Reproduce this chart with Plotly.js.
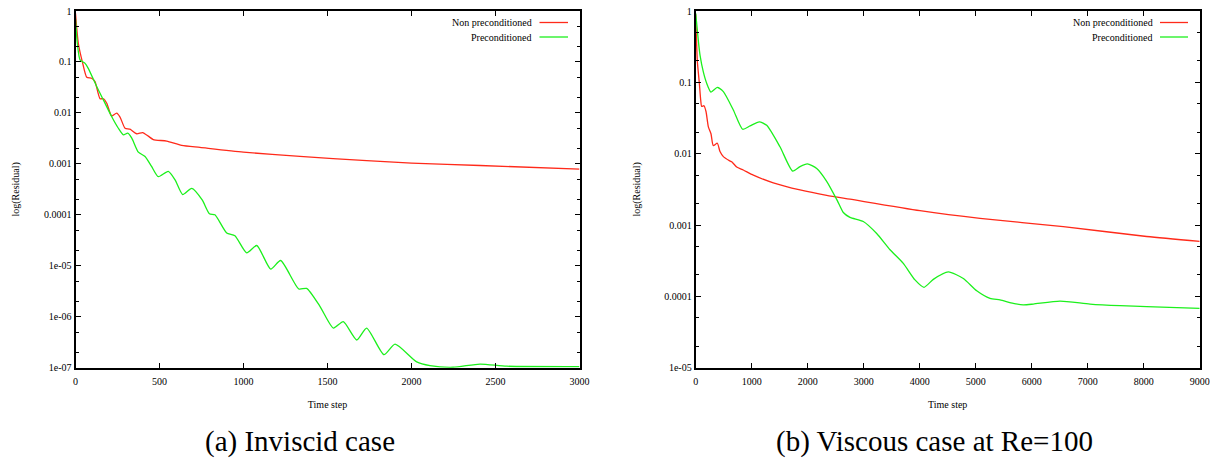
<!DOCTYPE html>
<html>
<head>
<meta charset="utf-8">
<script src="https://cdn.plot.ly/plotly-3.0.1.min.js"></script>
<style>html,body{margin:0;padding:0;background:#fff;}#chart{width:1215px;height:463px;}</style>
</head>
<body>
<div id="chart"></div>
<script>
// ---- Data ----
const seriesNames = ["Non preconditioned", "Preconditioned"];
const captions = ["(a) Inviscid case", "(b) Viscous case at Re=100"];
const xTitle = "Time step";
const yTitle = "log(Residual)";

// (a) Inviscid case
const invNonT = [0, 17, 43, 67, 96, 116, 146, 166, 186, 215, 245, 265, 295, 324, 364, 400, 433, 463, 543, 632, 741, 999, 1336, 1733, 2000, 2408, 3000];
const invNonR = [0.9, 0.23, 0.094, 0.05, 0.048, 0.041, 0.019, 0.019, 0.0155, 0.0087, 0.0099, 0.0083, 0.005, 0.0048, 0.0039, 0.0041, 0.0035, 0.0030, 0.0028, 0.0023, 0.0021, 0.0017, 0.0014, 0.00116, 0.00103, 0.00093, 0.00079];
const invPreT = [0, 11, 27, 57, 76, 126, 166, 215, 255, 285, 311, 335, 374, 414, 453, 493, 552, 592, 638, 692, 754, 797, 830, 900, 949, 1019, 1079, 1162, 1221, 1329, 1376, 1455, 1535, 1594, 1674, 1733, 1836, 1902, 2031, 2110, 2247, 2408, 2567, 3000];
const invPreR = [0.7, 0.23, 0.11, 0.094, 0.075, 0.033, 0.018, 0.0085, 0.005, 0.0037, 0.0040, 0.0032, 0.0017, 0.0014, 0.00089, 0.00056, 0.00071, 0.00049, 0.00025, 0.00033, 0.000196, 0.000105, 0.0001, 0.000044, 0.000039, 0.000018, 0.000025, 0.0000086, 0.0000127, 0.0000035, 0.0000036, 0.0000016, 0.0000006, 0.0000008, 0.00000035, 0.0000006, 0.00000018, 0.00000029, 0.00000013, 0.00000011, 0.000000102, 0.000000118, 0.000000107, 0.000000105];

// (b) Viscous case at Re=100
const visNonT = [0, 29, 65, 89, 107, 148, 184, 225, 273, 314, 386, 434, 494, 600, 643, 732, 850, 1029, 1386, 1863, 2339, 2755, 4005, 5077, 6564, 8053, 9000];
const visNonR = [0.9, 0.2, 0.097, 0.057, 0.046, 0.047, 0.039, 0.024, 0.019, 0.013, 0.014, 0.0107, 0.0091, 0.0080, 0.0077, 0.0065, 0.0059, 0.005, 0.0039, 0.0031, 0.0026, 0.0023, 0.00159, 0.00124, 0.00095, 0.00069, 0.00059];
const visPreT = [0, 46, 77, 136, 196, 273, 386, 494, 672, 839, 970, 1136, 1268, 1505, 1732, 1863, 1993, 2161, 2339, 2529, 2636, 2755, 2993, 3232, 3470, 3707, 3916, 4077, 4243, 4511, 4779, 5018, 5255, 5434, 5671, 5850, 6029, 6505, 7041, 7577, 8053, 9000];
const visPreR = [0.93, 0.39, 0.24, 0.14, 0.097, 0.073, 0.085, 0.074, 0.041, 0.022, 0.0245, 0.028, 0.025, 0.0125, 0.0057, 0.0066, 0.0072, 0.0062, 0.0041, 0.0022, 0.0015, 0.00128, 0.00112, 0.00076, 0.00045, 0.00029, 0.00017, 0.000134, 0.000173, 0.00022, 0.000178, 0.00012, 0.000094, 0.000089, 0.00008, 0.000076, 0.000078, 0.000086, 0.000078, 0.000074, 0.000072, 0.000068];

// Tick labels
const invYTickVals = [1, 0.1, 0.01, 0.001, 0.0001, 1e-5, 1e-6, 1e-7];
const invYTickText = ["1", "0.1", "0.01", "0.001", "0.0001", "1e-05", "1e-06", "1e-07"];
const visYTickVals = [1, 0.1, 0.01, 0.001, 0.0001, 1e-5];
const visYTickText = ["1", "0.1", "0.01", "0.001", "0.0001", "1e-05"];
const invXTicks = [0, 500, 1000, 1500, 2000, 2500, 3000];
const visXTicks = [0, 1000, 2000, 3000, 4000, 5000, 6000, 7000, 8000, 9000];
const minorMantissas = [2, 5];

// ---- Styling ----
const RED = "#ff2a1a";
const GREEN = "#1cf01c";
const FONT = "Liberation Serif";

function line(x, y, color, xa, ya) {
  return {x: x, y: y, type: "scatter", mode: "lines", xaxis: xa, yaxis: ya,
    line: {color: color, width: 1.3, shape: "spline", smoothing: 0.6}, showlegend: false, hoverinfo: "skip"};
}

const data = [
  line(invNonT, invNonR, RED, "x", "y"),
  line(invPreT, invPreR, GREEN, "x", "y"),
  line(visNonT, visNonR, RED, "x2", "y2"),
  line(visPreT, visPreR, GREEN, "x2", "y2"),
  // empty helper traces so the minor-tick overlay axes get drawn
  {x: [], y: [], type: "scatter", mode: "lines", xaxis: "x", yaxis: "y3", showlegend: false, hoverinfo: "skip"},
  {x: [], y: [], type: "scatter", mode: "lines", xaxis: "x2", yaxis: "y4", showlegend: false, hoverinfo: "skip"}
];

const dom1 = [75.5/1215, 579.5/1215];
const dom2 = [695.7/1215, 1199.7/1215];
const ydom = [1 - 367.7/463, 1 - 11/463];

function minorVals(lo, hi) {
  const v = [];
  for (let e = lo; e < hi; e++) minorMantissas.forEach(m => v.push(m * Math.pow(10, e)));
  return v;
}

function xaxis(dom, rng, ticks, anchor) {
  return {domain: dom, range: rng, anchor: anchor, tickvals: ticks, ticktext: ticks.map(String),
    showgrid: false, zeroline: false, showline: true, linecolor: "#000", linewidth: 2, mirror: "ticks",
    ticks: "inside", ticklen: 5, tickwidth: 1, tickcolor: "#000", ticklabelstandoff: 3,
    tickfont: {family: FONT, size: 10, color: "#000"},
    title: {text: xTitle, font: {family: FONT, size: 10, color: "#000"}, standoff: 15},
    automargin: false, fixedrange: true};
}
function yaxis(dom, rng, vals, text, anchor) {
  return {domain: dom, type: "log", range: rng, anchor: anchor, tickvals: vals, ticktext: text,
    showgrid: false, zeroline: false, showline: true, linecolor: "#000", linewidth: 2, mirror: "ticks",
    ticks: "inside", ticklen: 5, tickwidth: 1, tickcolor: "#000",
    tickfont: {family: FONT, size: 10, color: "#000"},
    title: {text: yTitle, font: {family: FONT, size: 10, color: "#000"}, standoff: 22},
    automargin: false, fixedrange: true};
}
function minorAxis(dom, rng, overlay, anchor) {
  return {domain: dom, type: "log", range: rng, overlaying: overlay, anchor: anchor,
    tickvals: minorVals(rng[0], rng[1]), showticklabels: false,
    ticks: "inside", ticklen: 3, tickwidth: 1, tickcolor: "#000", mirror: "ticks",
    showgrid: false, zeroline: false, fixedrange: true};
}

function legendItems(textRightPx, lineStartPx, lineEndPx) {
  const anns = [], shapes = [];
  const ys = [22.5, 37];
  const cols = [RED, GREEN];
  for (let i = 0; i < 2; i++) {
    anns.push({xref: "paper", yref: "paper", x: textRightPx/1215, y: 1 - ys[i]/463, xanchor: "right", yanchor: "middle",
      text: seriesNames[i], showarrow: false, font: {family: FONT, size: 10, color: "#000"}});
    shapes.push({type: "line", xref: "paper", yref: "paper", x0: lineStartPx/1215, x1: lineEndPx/1215,
      y0: 1 - ys[i]/463, y1: 1 - ys[i]/463, line: {color: cols[i], width: 1.3}});
  }
  return {anns, shapes};
}
const lg1 = legendItems(534, 539.5, 568);
const lg2 = legendItems(1154.5, 1160, 1188);

const captionAnns = [
  {xref: "paper", yref: "paper", x: 300/1215, y: 1 - 441/463, xanchor: "center", yanchor: "middle", text: captions[0], showarrow: false,
    font: {family: FONT, size: 29, color: "#000"}},
  {xref: "paper", yref: "paper", x: 934/1215, y: 1 - 441/463, xanchor: "center", yanchor: "middle", text: captions[1], showarrow: false,
    font: {family: FONT, size: 29, color: "#000"}}
];

const layout = {
  width: 1215, height: 463,
  margin: {l: 0, r: 0, t: 0, b: 0},
  paper_bgcolor: "#fff", plot_bgcolor: "#fff",
  showlegend: false,
  xaxis: xaxis(dom1, [0, 3000], invXTicks, "y"),
  yaxis: yaxis(ydom, [-7, 0], invYTickVals, invYTickText, "x"),
  xaxis2: xaxis(dom2, [0, 9000], visXTicks, "y2"),
  yaxis2: yaxis(ydom, [-5, 0], visYTickVals, visYTickText, "x2"),
  yaxis3: minorAxis(ydom, [-7, 0], "y", "x"),
  yaxis4: minorAxis(ydom, [-5, 0], "y2", "x2"),
  annotations: lg1.anns.concat(lg2.anns, captionAnns),
  shapes: lg1.shapes.concat(lg2.shapes)
};

Plotly.newPlot("chart", data, layout, {staticPlot: true, displayModeBar: false});
</script>
</body>
</html>
